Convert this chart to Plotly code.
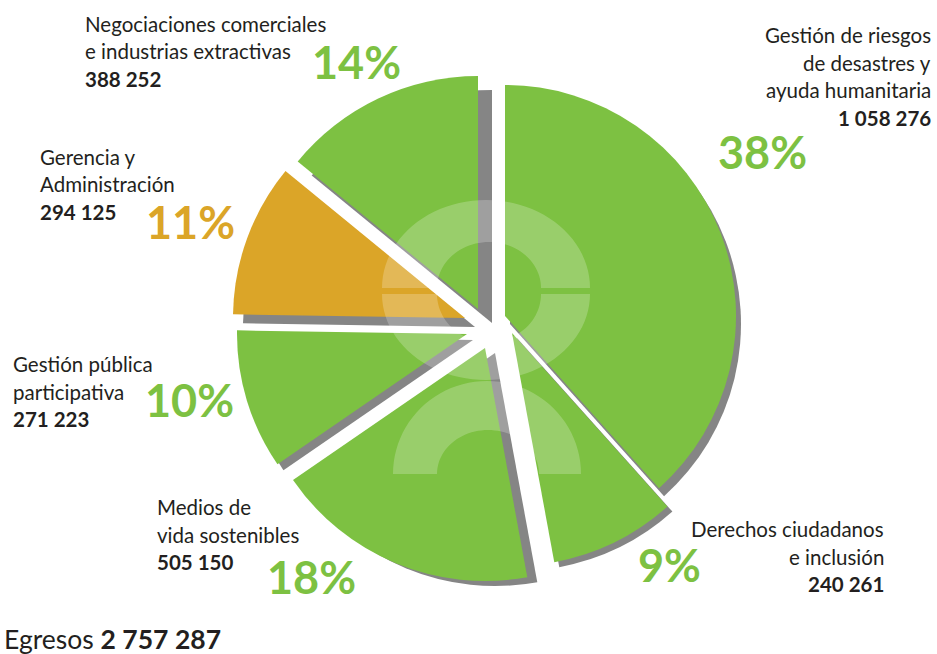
import math
import plotly.graph_objects as go

# ---------------- data ----------------
categories = [
    "Gestión de riesgos de desastres y ayuda humanitaria",
    "Derechos ciudadanos e inclusión",
    "Medios de vida sostenibles",
    "Gestión pública participativa",
    "Gerencia y Administración",
    "Negociaciones comerciales e industrias extractivas",
]
label_lines = [
    ["Gestión de riesgos", "de desastres y", "ayuda humanitaria"],
    ["Derechos ciudadanos", "e inclusión"],
    ["Medios de", "vida sostenibles"],
    ["Gestión pública", "participativa"],
    ["Gerencia y", "Administración"],
    ["Negociaciones comerciales", "e industrias extractivas"],
]
values = [1058276, 240261, 505150, 271223, 294125, 388252]
total_caption = "Egresos"

# ---------------- styles / layout constants ----------------
W, H = 937, 654
GREEN = "#7dc142"
ORANGE = "#dba528"
GRAY = "#858585"
DARK = "#231f20"
FONT = "Lato"
CLEAR = "rgba(0,0,0,0)"
slice_colors = [GREEN, GREEN, GREEN, GREEN, ORANGE, GREEN]

# exploded-slice geometry (px): centre x, centre y, radius, shadow dx, shadow dy
slice_geom = [
    (505, 316, 231, 5, 8),
    (512, 333, 233, 5, 5),
    (485, 348, 233, 10, 5),
    (467, 334, 230, 6, 6),
    (465, 318, 232, 10, 9),
    (478, 309, 233, 14, 14),
]

# label block placement (px): x, anchor, first-line centre y
label_place = [
    (933, "right", 35),
    (886, "right", 529),
    (155, "left", 507),
    (11, "left", 364),
    (38, "left", 157),
    (83, "left", 24),
]
pct_place = [(762, 152), (669, 565), (311, 577), (189, 400), (190, 222), (356, 62)]
LINE_H = 27.5
LABEL_SIZE = 20.5
PCT_SIZE = 45


def px(x):
    return x / W


def py(y):
    return 1 - y / H


def domain_for(cx, cy, r):
    return dict(x=[px(cx - r), px(cx + r)], y=[py(cy + r), py(cy - r)])


def fmt(v):
    return f"{v:,}".replace(",", " ")


total = sum(values)
pct_text = [f"{round(v / total * 100)}%" for v in values]
n = len(values)

fig = go.Figure()


def slice_trace(i, color, cx, cy, r, hover):
    cols = [CLEAR] * n
    cols[i] = color
    return go.Pie(
        values=values, labels=categories, sort=False, direction="clockwise", rotation=0,
        marker=dict(colors=cols, line=dict(width=0)), textinfo="none",
        hoverinfo=hover, showlegend=False, domain=domain_for(cx, cy, r),
    )


# shadows first
for i in range(n):
    cx, cy, r, dx, dy = slice_geom[i]
    fig.add_trace(slice_trace(i, GRAY, cx + dx, cy + dy, r, "skip"))
# coloured slices
for i in range(n):
    cx, cy, r, dx, dy = slice_geom[i]
    fig.add_trace(slice_trace(i, slice_colors[i], cx, cy, r, "skip"))


# ---------------- watermark (decorative symbol) ----------------
def arc(cx, cy, rx, ry, a0, a1, k=48):
    pts = []
    for j in range(k + 1):
        a = math.radians(a0 + (a1 - a0) * j / k)
        pts.append((cx + rx * math.cos(a), cy - ry * math.sin(a)))
    return pts


def path_from(pts):
    return "M " + " L ".join(f"{px(x):.5f},{py(y):.5f}" for x, y in pts) + " Z"


WM = "rgba(255,255,255,0.22)"
shapes = []
shapes.append(arc(486, 288, 104, 88, 0, 180) + arc(489, 288, 52, 46, 180, 0))
shapes.append(arc(486, 294, 104, 86, 180, 360) + arc(489, 294, 52, 48, 360, 180))
shapes.append(arc(487, 474, 94, 93, 0, 180) + arc(488, 474, 51, 44, 180, 0))
layout_shapes = [dict(type="path", path=path_from(s), xref="paper", yref="paper",
                      fillcolor=WM, line=dict(width=0), layer="above") for s in shapes]

# ---------------- annotations ----------------
ann = []
for i, lines in enumerate(label_lines):
    x, anchor, y0 = label_place[i]
    all_lines = lines + [f"<b>{fmt(values[i])}</b>"]
    for j, t in enumerate(all_lines):
        ann.append(dict(x=px(x), y=py(y0 + j * LINE_H), xref="paper", yref="paper",
                        text=t, showarrow=False, xanchor=anchor, yanchor="middle",
                        align=anchor, font=dict(family=FONT, size=LABEL_SIZE, color=DARK)))
    cxp, cyp = pct_place[i]
    ann.append(dict(x=px(cxp), y=py(cyp), xref="paper", yref="paper",
                    text=f"<b>{pct_text[i]}</b>", showarrow=False, xanchor="center",
                    yanchor="middle", font=dict(family=FONT, size=PCT_SIZE, color=slice_colors[i])))

ann.append(dict(x=px(2), y=py(639), xref="paper", yref="paper",
                text=f"{total_caption} <b>{fmt(total)}</b>", showarrow=False,
                xanchor="left", yanchor="middle",
                font=dict(family=FONT, size=26.5, color=DARK)))

fig.update_layout(
    width=W, height=H, margin=dict(l=0, r=0, t=0, b=0),
    paper_bgcolor="white", plot_bgcolor="white",
    annotations=ann, shapes=layout_shapes, showlegend=False,
)

fig.write_html("out.html", config={"displayModeBar": False},
               post_script="document.body.style.margin='0px';")
